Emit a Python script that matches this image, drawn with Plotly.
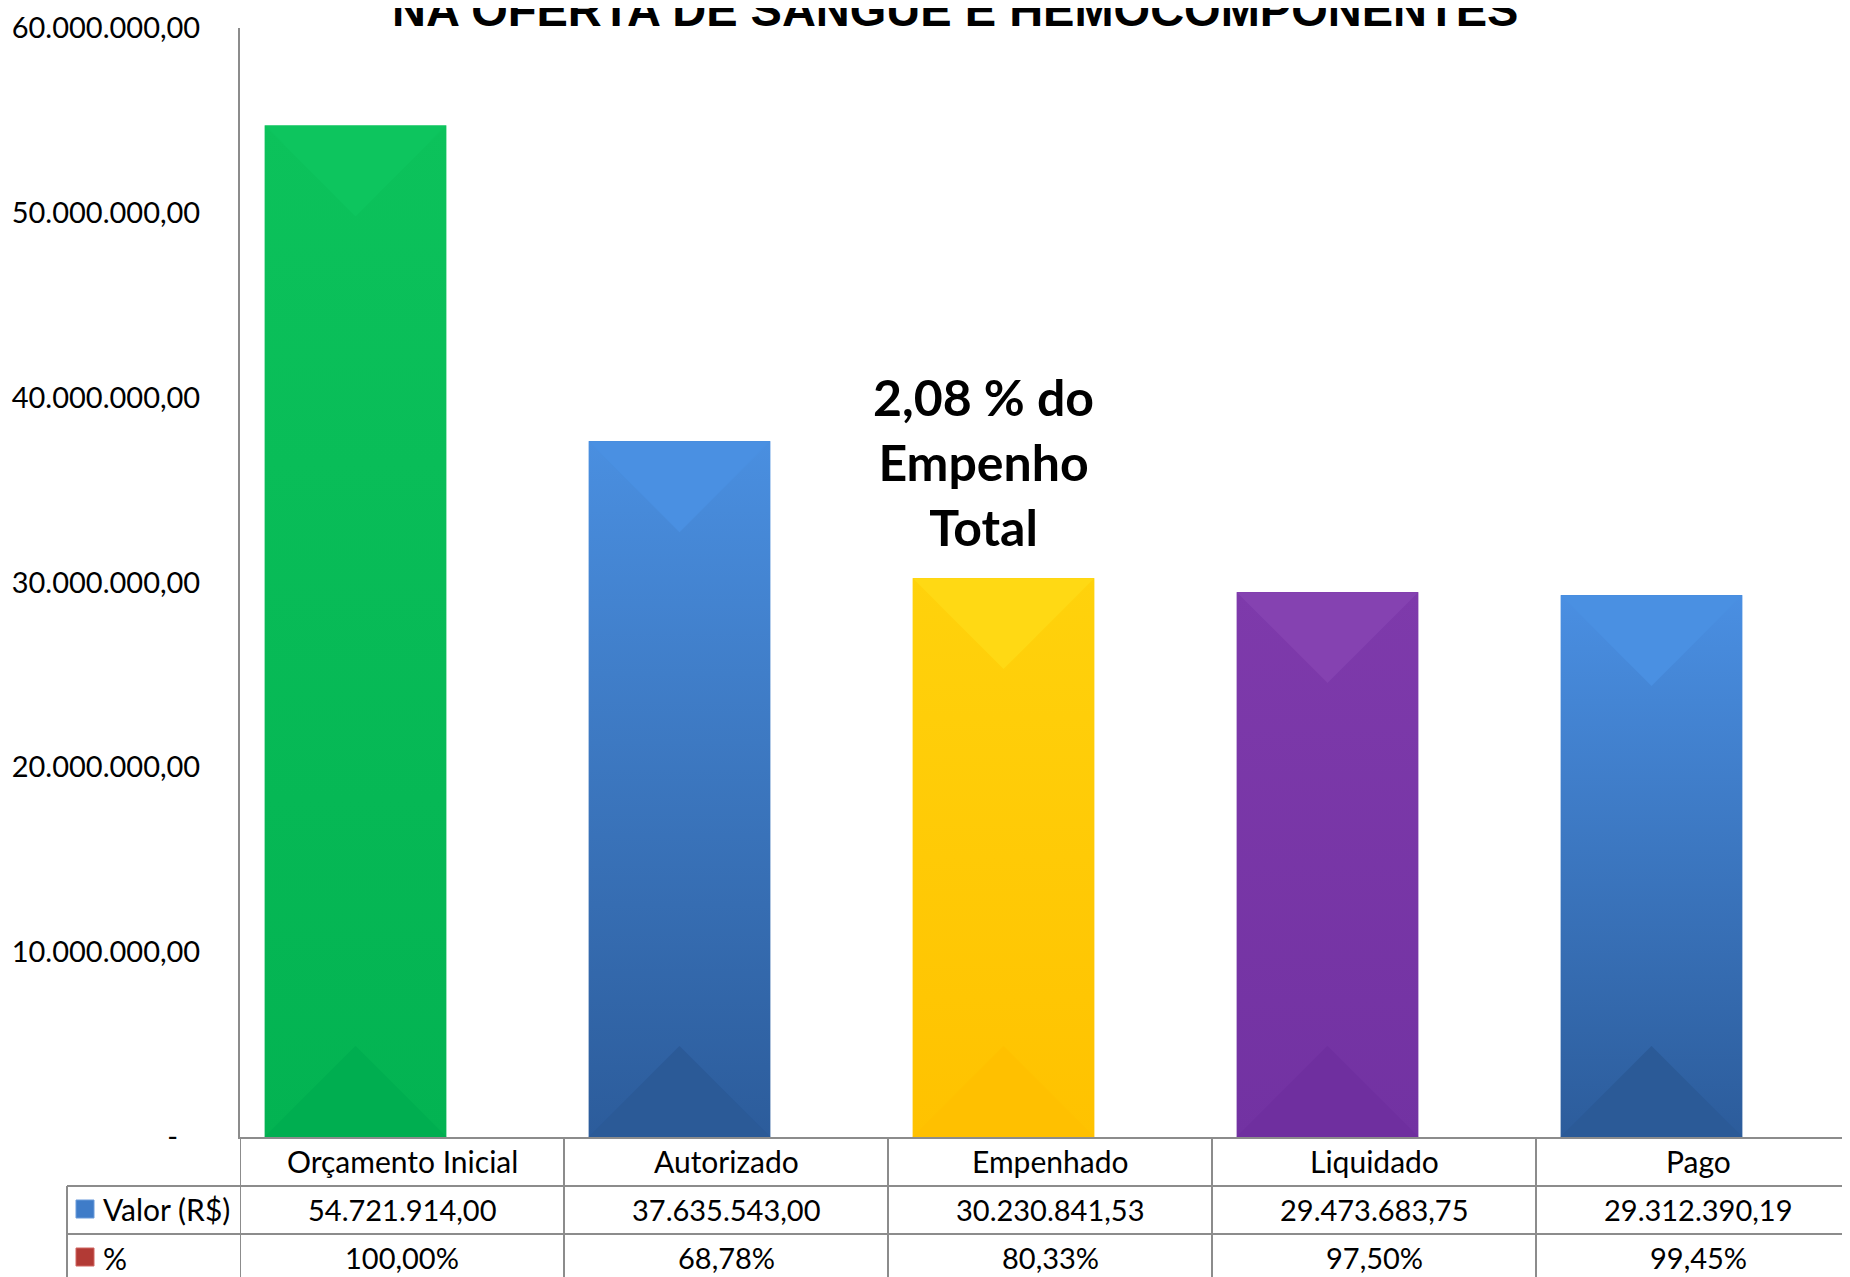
import plotly.graph_objects as go

# ---------------- data ----------------
categories = ["Orçamento Inicial", "Autorizado", "Empenhado", "Liquidado", "Pago"]
valores = [54721914.00, 37635543.00, 30230841.53, 29473683.75, 29312390.19]
percentuais = [100.00, 68.78, 80.33, 97.50, 99.45]
y_tick_values = [0, 10e6, 20e6, 30e6, 40e6, 50e6, 60e6]
y_tick_labels = ["-\u00a0\u00a0\u00a0", "10.000.000,00", "20.000.000,00", "30.000.000,00",
                 "40.000.000,00", "50.000.000,00", "60.000.000,00"]
row_labels = ["Valor (R$)", "%"]
title_text = "NA OFERTA DE SANGUE E HEMOCOMPONENTES"
note_text = "2,08 % do<br>Empenho<br>Total"

# ---------------- styles ----------------
bar_top = ["#0CC25B", "#4A8FE0", "#FFD20C", "#7E3AAB", "#4A8FE2"]
bar_bot = ["#03B352", "#2C5C9B", "#FFC200", "#7232A2", "#2C5C9B"]
bar_mid = ["#07B954", "#3B75BF", "#FFC905", "#7835A6", "#3B75BF"]
tri_top = ["#0DC55E", "#4A90E2", "#FFD914", "#8542B1", "#4A90E2"]
tri_bot = ["#00AE50", "#2B5A97", "#FFC000", "#6F2F9F", "#2B5A97"]

OFF = 8                                    # page body margin
WREF, HREF = 1850, 1277
W, H = WREF - OFF, HREF - OFF
PL, PR, PT, PB = 240, 1850, 28, 1137      # plot area in page pixels
COLW = 324                                 # pixel width of one category column
BAR_OFF, BAR_W = -0.424, 0.561             # bar position inside its category (x units)
YMAX = 60e6
GRID = "#8C8C8C"
FONT = "Lato"

def px_x(px):
    return (px - PL) / (PR - PL)

def px_y(py):
    return (PB - py) / (PB - PT)

fig = go.Figure()

xs = list(range(len(categories)))
fig.add_trace(go.Bar(x=xs, y=valores, width=BAR_W, offset=BAR_OFF,
                     marker=dict(color=bar_mid, line=dict(width=0)),
                     showlegend=False, hoverinfo="skip"))

# vertical gradient overlay for each bar (derived from the same data)
for i, v in enumerate(valores):
    x0 = xs[i] + BAR_OFF
    x1 = x0 + BAR_W
    fig.add_trace(go.Scatter(
        x=[x0, x1, x1, x0, x0], y=[0, 0, v, v, 0], mode="lines",
        line=dict(width=0), fill="toself",
        fillgradient=dict(type="vertical",
                          colorscale=[[0, bar_bot[i]], [1, bar_top[i]]]),
        showlegend=False, hoverinfo="skip"))

# bevel triangles (45 degree) at top and bottom of each bar
px_per_unit_y = (PB - PT) / YMAX
shapes = []
for i, v in enumerate(valores):
    x0 = xs[i] + BAR_OFF
    x1 = x0 + BAR_W
    xc = (x0 + x1) / 2
    depth = (BAR_W * COLW / 2) / px_per_unit_y
    shapes.append(dict(type="path", xref="x", yref="y",
                       path=f"M {x0} {v} L {x1} {v} L {xc} {v - depth} Z",
                       fillcolor=tri_top[i], line=dict(width=0), layer="above"))
    shapes.append(dict(type="path", xref="x", yref="y",
                       path=f"M {x0} 0 L {x1} 0 L {xc} {depth} Z",
                       fillcolor=tri_bot[i], line=dict(width=0), layer="above"))

# ---------------- data table ----------------
row_y = [1137, 1186, 1234, 1283]
for ry in row_y[1:3]:
    shapes.append(dict(type="line", xref="paper", yref="paper",
                       x0=px_x(67), x1=1.0, y0=px_y(ry), y1=px_y(ry),
                       line=dict(color=GRID, width=2)))
for k in range(len(categories)):
    shapes.append(dict(type="line", xref="x", yref="paper",
                       x0=k - 0.5, x1=k - 0.5, y0=0, y1=px_y(HREF + 5),
                       line=dict(color=GRID, width=2)))
shapes.append(dict(type="line", xref="paper", yref="paper",
                   x0=px_x(67), x1=px_x(67), y0=px_y(1186), y1=px_y(HREF + 5),
                   line=dict(color=GRID, width=2)))
# legend keys
shapes.append(dict(type="rect", xref="paper", yref="paper",
                   x0=px_x(76), x1=px_x(94), y0=px_y(1218), y1=px_y(1200),
                   fillcolor="#3F7CC8", line=dict(color="#6A9BDA", width=1)))
shapes.append(dict(type="rect", xref="paper", yref="paper",
                   x0=px_x(76), x1=px_x(94), y0=px_y(1266), y1=px_y(1248),
                   fillcolor="#B23A35", line=dict(color="#D06560", width=1)))

def br(v):
    return f"{v:,.2f}".replace(",", "X").replace(".", ",").replace("X", ".")

ann = []
tf_num = dict(family=FONT, size=29, color="#000000")
tf_txt = dict(family=FONT, size=30, color="#000000")
row_mid = [(row_y[j] + row_y[j + 1]) / 2 - 1 for j in range(3)]
for i, c in enumerate(categories):
    ann.append(dict(x=i, xref="x", y=px_y(row_mid[0]), yref="paper", text=c,
                    showarrow=False, font=tf_txt, xanchor="center", yanchor="middle"))
    ann.append(dict(x=i, xref="x", y=px_y(row_mid[1]), yref="paper", text=br(valores[i]),
                    showarrow=False, font=tf_num, xanchor="center", yanchor="middle"))
    ann.append(dict(x=i, xref="x", y=px_y(row_mid[2]), yref="paper",
                    text=br(percentuais[i]) + "%",
                    showarrow=False, font=tf_num, xanchor="center", yanchor="middle"))
for j, lab in enumerate(row_labels):
    ann.append(dict(x=px_x(101), xref="paper", y=px_y(row_mid[j + 1]), yref="paper",
                    text=lab, showarrow=False, font=tf_txt, xanchor="left", yanchor="middle"))

# note and (clipped) title
ann.append(dict(x=px_x(983), xref="paper", y=px_y(462), yref="paper",
                text="<b>" + note_text.replace("<br>", "</b><br><b>") + "</b>",
                showarrow=False, font=dict(family=FONT, size=50, color="#000000"),
                xanchor="center", yanchor="middle", align="center"))
ann.append(dict(x=px_x(955), xref="paper", y=px_y(38), yref="paper", text="<b>" + title_text + "</b>",
                showarrow=False, font=dict(family="Liberation Sans", size=47, color="#000000"),
                xanchor="center", yanchor="bottom"))

fig.update_layout(
    width=W, height=H, autosize=False,
    margin=dict(l=PL - OFF, r=WREF - PR, t=PT - OFF, b=HREF - PB, pad=0),
    paper_bgcolor="white", plot_bgcolor="white",
    showlegend=False, bargap=0,
    xaxis=dict(range=[-0.5, -0.5 + (PR - PL) / COLW], showticklabels=False, ticks="",
               showgrid=False, zeroline=False, showline=True, linecolor=GRID, linewidth=2,
               fixedrange=True),
    yaxis=dict(range=[0, YMAX], tickvals=y_tick_values, ticktext=y_tick_labels,
               tickfont=dict(family=FONT, size=29, color="#000000"), ticks="",
               ticklabelstandoff=32,
               showgrid=False, zeroline=False, showline=True, linecolor=GRID, linewidth=2,
               fixedrange=True),
    shapes=shapes, annotations=ann,
)

fig.write_html("out.html")
